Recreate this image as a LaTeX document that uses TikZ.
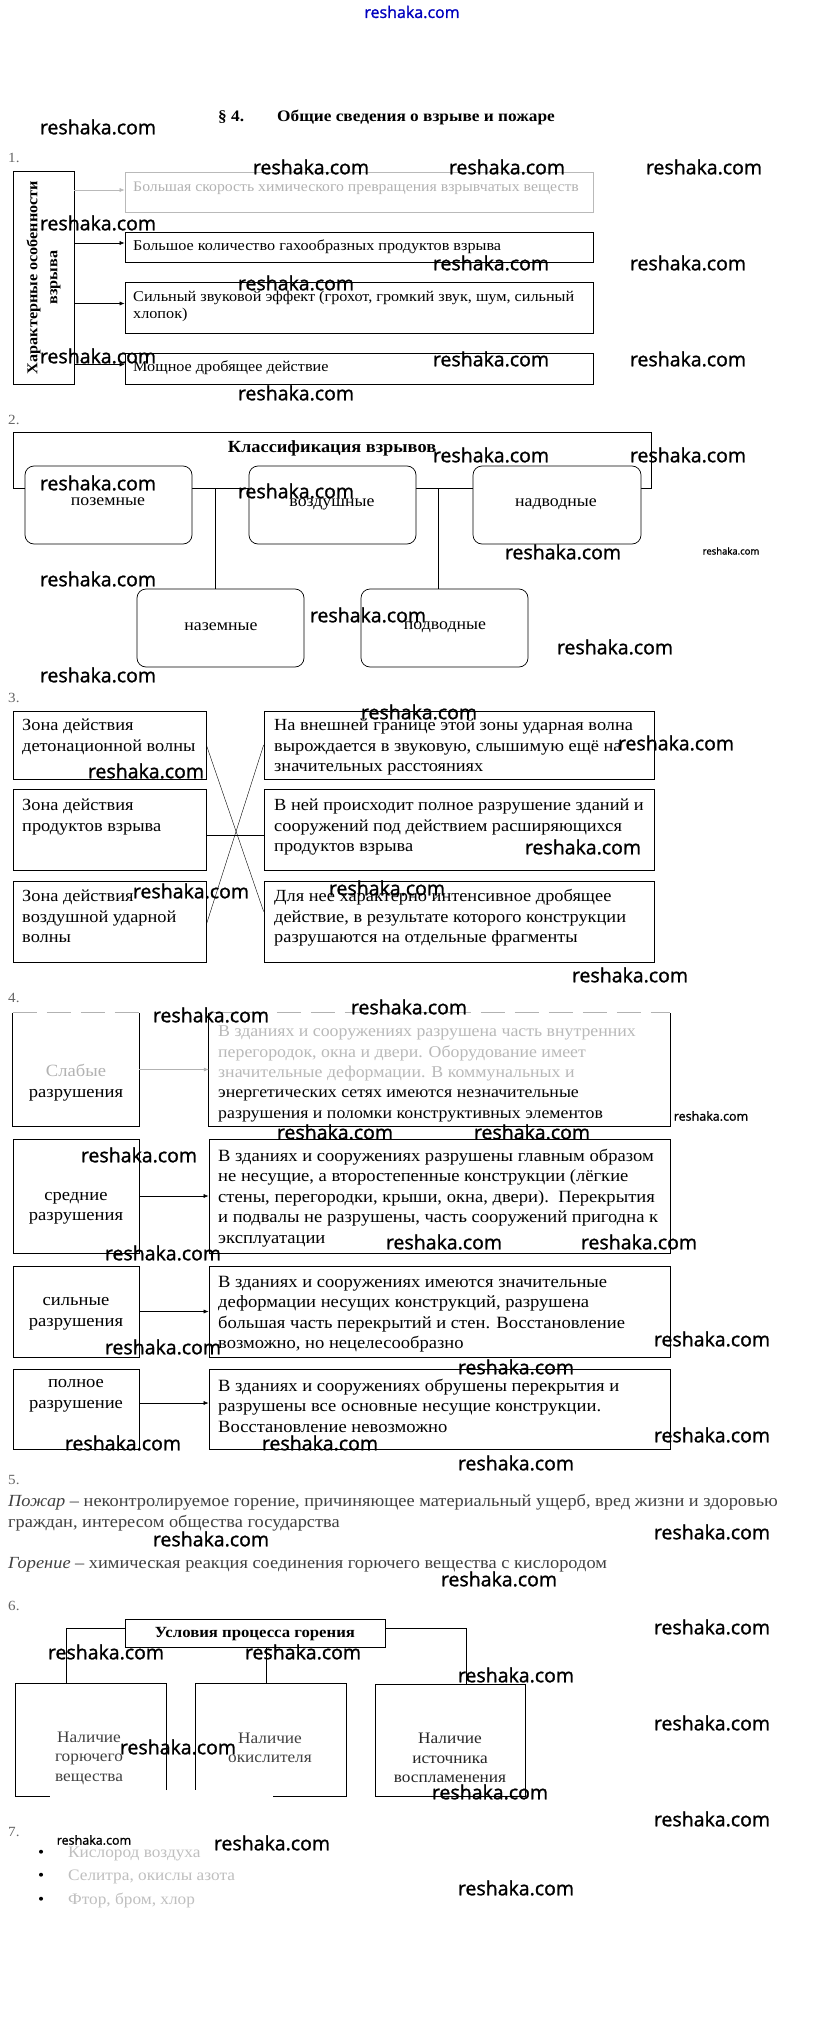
\documentclass[tikz,border=0pt]{standalone}
\usepackage{fontspec}
\setmainfont{Liberation Serif}[FakeStretch=1.08]
\newfontfamily\wmfont{Open Sans}[FakeBold=1.3]
\usetikzlibrary{arrows.meta,fit}
\newcommand{\fs}[2]{\fontsize{#1}{#2}\selectfont}
\begin{document}
\begin{tikzpicture}[x=1pt,y=-1pt,
 box/.style={draw, line width=0.7pt, inner sep=0pt},
 fbox/.style={draw=gray!55, line width=0.7pt, inner sep=0pt},
 rbox/.style={draw, fill=white, rounded corners=9pt, line width=0.7pt, inner sep=0pt},
 txt/.style={anchor=north west, inner sep=0pt, align=left},
 ctxt/.style={inner sep=0pt, align=center},
 s1/.style={font=\fs{15}{17}},
 s2/.style={font=\fs{16.5}{20}},
 s3/.style={font=\fs{17}{20.5}},
 s4/.style={font=\fs{17.2}{20.5}},
 s5/.style={font=\fs{17}{20.5}, text=black!75},
 wm/.style={font=\wmfont\fs{19.5}{21}, inner sep=0pt},
 wms/.style={font=\wmfont\fs{12.5}{14}, inner sep=0pt},
 num/.style={font=\fs{14}{16}, text=gray!80!black, inner sep=0pt, anchor=west},
 arr/.style={-{Latex[length=5pt,width=4pt]}, line width=0.6pt},
 ln/.style={line width=0.6pt},
]
\useasboundingbox[fill=white] (0,0) rectangle (823,2025);

% header
\node[font=\wmfont\fs{16}{17}, text=blue!75!black, inner sep=0pt] (top) at (412,12) {reshaka.com};
\node[anchor=west, inner sep=0pt, font=\bfseries\fs{16}{18}] (par) at (218,117) {§ 4.};
\node[anchor=west, inner sep=0pt, font=\bfseries\fs{16}{18}] (ttl) at (277,117) {Общие сведения о взрыве и пожаре};

% ---------- 1 ----------
\node[num] (n1) at (8,158) {1.};
\node[box, fit={(13,171) (74,384)}] (V) {};
\node[rotate=90, ctxt, font=\bfseries\fs{15}{20}] (Vt) at (V.center) {Характерные особенности\\взрыва};
\node[fbox, fit={(125,172) (593,212)}] (A1) {};
\node[box, fit={(125,232) (593,262)}] (A2) {};
\node[box, fit={(125,282) (593,333)}] (A3) {};
\node[box, fit={(125,353) (593,384)}] (A4) {};
\node[txt, font=\fs{14.6}{17}, text=gray!60] (A1t) at (133,179.3) {\strut Большая скорость химического превращения взрывчатых веществ};
\node[txt, s1] (A2t) at (133,238.3) {\strut Большое количество гахообразных продуктов взрыва};
\node[txt, s1] (A3t) at (133,289.3) {\strut Сильный звуковой эффект (грохот, громкий звук, шум, сильный\\хлопок)};
\node[txt, s1] (A4t) at (133,359.3) {\strut Мощное дробящее действие};
\draw[arr, gray!55] ([yshift=2pt]V.east |- A1.west) -- ([yshift=2pt]A1.west);
\draw[arr] ([yshift=4pt]V.east |- A2.west) -- ([yshift=4pt]A2.west);
\draw[arr] ([yshift=4pt]V.east |- A3.west) -- ([yshift=4pt]A3.west);
\draw[arr] ([yshift=4pt]V.east |- A4.west) -- ([yshift=4pt]A4.west);

% ---------- 2 ----------
\node[num] (n2) at (8,420) {2.};
\node[box, fit={(13,432) (651,488)}] (F) {};
\node[inner sep=0pt, font=\bfseries\fs{17}{20}] (Ft) at (332,448) {Классификация взрывов};
\node[rbox, s2, fit={(25,466) (192,544)}] (P1) {};
\node[rbox, s2, fit={(249,466) (416,544)}] (P2) {};
\node[rbox, s2, fit={(473,466) (641,544)}] (P3) {};
\node[rbox, s2, fit={(137,589) (304,667)}] (P4) {};
\node[rbox, s2, fit={(361,589) (528,667)}] (P5) {};
\node[ctxt, s2] (P1t) at (108,502) {поземные};
\node[ctxt, s2] (P2t) at (332,504) {воздушные};
\node[ctxt, s2] (P3t) at (556,504) {надводные};
\node[ctxt, s2] (P4t) at (221,627) {наземные};
\node[ctxt, s2] (P5t) at (445,627) {подводные};
\draw[ln] ([xshift=-5.5pt]P4.north) -- ([xshift=-5.5pt]P4.north |- F.south);
\draw[ln] ([xshift=-6.5pt]P5.north) -- ([xshift=-6.5pt]P5.north |- F.south);

% ---------- 3 ----------
\node[num] (n3) at (8,698) {3.};
\node[box, fit={(13,711) (206,779)}] (L1) {};
\node[box, fit={(13,789) (206,870)}] (L2) {};
\node[box, fit={(13,881) (206,962)}] (L3) {};
\node[box, fit={(264,711) (654,779)}] (R1) {};
\node[box, fit={(264,789) (654,870)}] (R2) {};
\node[box, fit={(264,881) (654,962)}] (R3) {};
\node[txt, s3] (L1t) at (22,716.4) {\strut Зона действия\\детонационной волны};
\node[txt, s3] (L2t) at (22,796.4) {\strut Зона действия\\продуктов взрыва};
\node[txt, s3] (L3t) at (22,887.4) {\strut Зона действия\\воздушной ударной\\волны};
\node[txt, s3] (R1t) at (274,716.4) {\strut На внешней границе этой зоны ударная волна\\вырождается в звуковую, слышимую ещё на\\значительных расстояниях};
\node[txt, s3] (R2t) at (274,796.4) {\strut В ней происходит полное разрушение зданий и\\сооружений под действием расширяющихся\\продуктов взрыва};
\node[txt, s3] (R3t) at (274,887.4) {\strut Для нее характерно интенсивное дробящее\\действие, в результате которого конструкции\\разрушаются на отдельные фрагменты};
\draw[line width=0.4pt] (L1.east) -- ([yshift=10pt]R3.west);
\draw[line width=0.4pt] ([yshift=-6pt]L2.east) -- ([yshift=-6pt]R2.west);
\draw[line width=0.4pt] ([yshift=-3pt]L3.east) -- (R1.west);

% ---------- 4 ----------
\node[num] (n4) at (8,998) {4.};
\node[inner sep=0pt, fit={(13,1013) (139,1126)}] (S1) {};
\node[inner sep=0pt, fit={(209,1013) (670,1126)}] (S1r) {};
\draw[line width=0.7pt] (S1.north west) -- (S1.south west) -- (S1.south east) -- (S1.north east);
\draw[line width=0.7pt] (S1r.north west) -- (S1r.south west) -- (S1r.south east) -- (S1r.north east);
\draw[line width=0.7pt, gray!60, dash pattern=on 24pt off 10pt] (S1.north west) -- (S1.north east);
\draw[line width=0.7pt, gray!60, dash pattern=on 24pt off 10pt] (S1r.north west) -- (S1r.north east);
\node[box, fit={(13,1139) (139,1253)}] (S2) {};
\node[box, fit={(209,1139) (670,1253)}] (S2r) {};
\node[box, fit={(13,1266) (139,1357)}] (S3) {};
\node[box, fit={(209,1266) (670,1357)}] (S3r) {};
\node[box, fit={(13,1369) (139,1449)}] (S4) {};
\node[box, fit={(209,1369) (670,1449)}] (S4r) {};
\node[ctxt, s4] (S1t) at (76,1082.5) {\textcolor{gray!60}{Слабые}\\разрушения};
\node[ctxt, s4] (S2t) at (76,1208.5) {средние\\разрушения};
\node[ctxt, s4] (S3t) at (76,1314) {сильные\\разрушения};
\node[ctxt, s4] (S4t) at (76,1396) {полное\\разрушение};
\node[txt, font=\fs{16.5}{20.3}] (S1rt) at (218,1022.5) {\strut\textcolor{gray!55}{В зданиях и сооружениях разрушена часть внутренних}\\\textcolor{gray!55}{перегородок, окна и двери. Оборудование имеет}\\\textcolor{gray!55}{значительные деформации. В коммунальных и}\\энергетических сетях имеются незначительные\\разрушения и поломки конструктивных элементов};
\node[txt, s4] (S2rt) at (218,1146.5) {\strut В зданиях и сооружениях разрушены главным образом\\не несущие, а второстепенные конструкции (лёгкие\\стены, перегородки, крыши, окна, двери).\ \ Перекрытия\\и подвалы не разрушены, часть сооружений пригодна к\\эксплуатации};
\node[txt, s4] (S3rt) at (218,1272.5) {\strut В зданиях и сооружениях имеются значительные\\деформации несущих конструкций, разрушена\\большая часть перекрытий и стен. Восстановление\\возможно, но нецелесообразно};
\node[txt, s4] (S4rt) at (218,1376.5) {\strut В зданиях и сооружениях обрушены перекрытия и\\разрушены все основные несущие конструкции.\\Восстановление невозможно};
\draw[arr, gray!60] (S1.east) -- (S1r.west);
\draw[arr] (S2.east) -- (S2r.west);
\draw[arr] (S3.east) -- (S3r.west);
\draw[arr] ([yshift=6pt]S4.east) -- ([yshift=6pt]S4r.west);

% ---------- 5 ----------
\node[num] (n5) at (8,1480) {5.};
\node[txt, s5] (D1) at (8,1492.4) {\strut\textit{Пожар} – неконтролируемое горение, причиняющее материальный ущерб, вред жизни и здоровью\\граждан, интересом общества государства};
\node[txt, s5] (D2) at (8,1554.4) {\strut\textit{Горение} – химическая реакция соединения горючего вещества с кислородом};

% ---------- 6 ----------
\node[num] (n6) at (8,1606) {6.};
\node[box, fit={(125,1619) (385,1647)}] (T) {};
\node[inner sep=0pt, font=\bfseries\fs{15.5}{18}] (Tt) at (255,1634) {Условия процесса горения};
\node[inner sep=0pt, fit={(16,1684) (166,1796)}] (B1) {};
\node[inner sep=0pt, fit={(196,1684) (346,1796)}] (B2) {};
\node[box, fit={(375,1684) (525,1796)}] (B3) {};
\draw[line width=0.7pt] ([yshift=6pt]B1.south east) -- (B1.north east) -- (B1.north west) -- (B1.south west) -- ([xshift=34pt]B1.south west);
\draw[line width=0.7pt] ([xshift=-73pt]B2.south east) -- (B2.south east) -- (B2.north east) -- (B2.north west) -- ([yshift=6pt]B2.south west);
\draw[ln] ([yshift=5pt]T.west) -| ([xshift=-25pt]B1.north);
\draw[ln] ([yshift=5pt]T.east) -| ([xshift=16pt]B3.north);
\draw[line width=0.4pt] ([xshift=-5pt]B2.north) -- ([xshift=-5pt]B2.north |- T.south);
\node[ctxt, font=\fs{16}{19.5}, text=black!75] (B1t) at (89,1758) {Наличие\\горючего\\вещества};
\node[ctxt, font=\fs{16}{19.5}, text=black!75] (B2t) at (270,1748) {Наличие\\окислителя};
\node[ctxt, font=\fs{16}{19.5}, text=black!85] (B3t) at (450,1758) {Наличие\\источника\\воспламенения};

% ---------- 7 ----------
\node[num] (n7) at (8,1832) {7.};
\node[anchor=west, inner sep=0pt, font=\fs{16}{18}] (i1) at (38,1854) {\makebox[30pt][l]{•}\textcolor{gray!50}{Кислород воздуха}};
\node[anchor=west, inner sep=0pt, font=\fs{16}{18}] (i2) at (38,1877) {\makebox[30pt][l]{•}\textcolor{gray!50}{Селитра, окислы азота}};
\node[anchor=west, inner sep=0pt, font=\fs{16}{18}] (i3) at (38,1900) {\makebox[30pt][l]{•}\textcolor{gray!50}{Фтор, бром, хлор}};

% ---------- watermarks ----------
\foreach \x/\y [count=\i] in {98/127, 311/167, 507/167, 704/167, 98/223, 491/263, 688/263, 296/283, 98/356, 491/359, 688/359, 296/393, 491/455, 688/455, 98/483, 296/491, 563/552, 98/579, 368/615, 615/647, 98/675, 419/712, 676/743, 146/771, 583/847, 191/891, 387/888, 630/975, 211/1015, 409/1007, 335/1132, 532/1132, 139/1155, 444/1242, 639/1242, 163/1253, 163/1347, 712/1339, 516/1367, 123/1443, 320/1443, 712/1435, 516/1463, 211/1539, 712/1532, 499/1579, 712/1627, 106/1652, 303/1652, 516/1675, 712/1723, 178/1747, 490/1792, 712/1819, 272/1843, 516/1888}
  \node[wm] (wm\i) at (\x,\y) {reshaka.com};
\node[wm, font=\wmfont\fs{9.5}{11}] (wsa) at (731,551) {reshaka.com};
\node[wms] (wsb) at (711,1116) {reshaka.com};
\node[wms] (wsc) at (94,1840) {reshaka.com};
\end{tikzpicture}
\end{document}
